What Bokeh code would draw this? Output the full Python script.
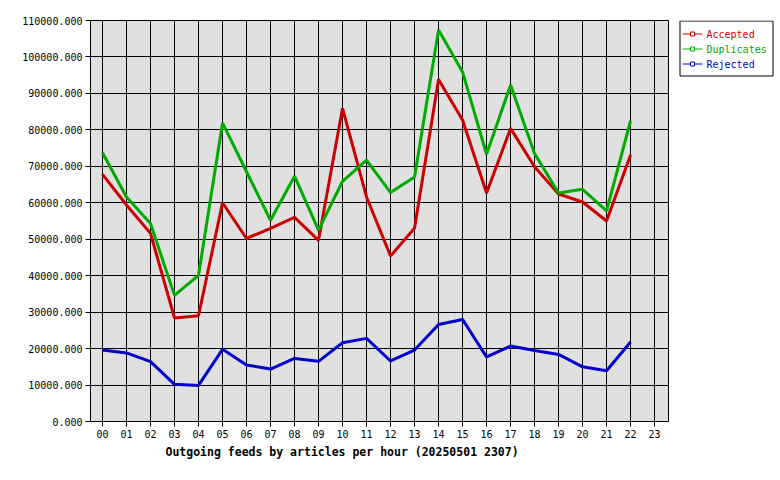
from bokeh.plotting import figure
from bokeh.layouts import row
from bokeh.models import Range1d, FixedTicker, PrintfTickFormatter, Title
from bokeh.core.properties import value
from bokeh.embed import file_html
from bokeh.resources import INLINE

# ---- data ----
hours = ["00", "01", "02", "03", "04", "05", "06", "07", "08", "09", "10", "11",
         "12", "13", "14", "15", "16", "17", "18", "19", "20", "21", "22", "23"]
accepted = [67800, 59400, 51600, 28400, 29000, 60000, 50200, 53000, 56000, 49700,
            85900, 61600, 45400, 53000, 93800, 82700, 62700, 80400, 69900, 62400,
            60200, 55000, 73100]
duplicates = [73700, 61600, 54300, 34600, 40100, 81900, 68500, 55200, 67300, 52500,
              65900, 71700, 62800, 67100, 107400, 95900, 73300, 92300, 73500, 62700,
              63700, 57800, 82500]
rejected = [19600, 18800, 16400, 10200, 9900, 19800, 15500, 14400, 17300, 16500,
            21600, 22800, 16600, 19600, 26600, 28000, 17700, 20700, 19500, 18400,
            15000, 13900, 21800]
y_ticks = [0, 10000, 20000, 30000, 40000, 50000, 60000, 70000, 80000, 90000, 100000, 110000]
series_names = ["Accepted", "Duplicates", "Rejected"]
series_colors = ["#cc0000", "#00aa00", "#0000cc"]
title_text = "Outgoing feeds by articles per hour (20250501 2307)"

FONT = "DejaVu Sans Mono"
TOP, BOTTOM = 20, 51

# ---- main chart ----
p = figure(width=672, height=472, output_backend="svg", toolbar_location=None,
           x_range=Range1d(-0.5, 23.58), y_range=Range1d(0, 110000),
           min_border_left=90, min_border_right=4, min_border_top=TOP,
           min_border_bottom=BOTTOM)
p.background_fill_color = "#e0e0e0"
p.border_fill_color = "white"
p.outline_line_color = "black"
p.outline_line_width = 1

xpos = list(range(len(hours)))

p.xaxis.ticker = FixedTicker(ticks=xpos)
p.xaxis.major_label_overrides = {i: h for i, h in enumerate(hours)}
p.yaxis.ticker = FixedTicker(ticks=y_ticks)
p.yaxis.formatter = PrintfTickFormatter(format="%.3f")
for ax in (p.xaxis[0], p.yaxis[0]):
    ax.major_label_text_font = FONT
    ax.major_label_text_font_size = "10px"
    ax.major_label_text_color = "black"
    ax.major_tick_out = 5
    ax.major_tick_in = 0
    ax.minor_tick_out = 0
    ax.minor_tick_in = 0
    ax.major_label_standoff = 3
    ax.axis_line_color = "black"
    ax.major_tick_line_color = "black"

p.xgrid.ticker = FixedTicker(ticks=xpos)
p.ygrid.ticker = FixedTicker(ticks=y_ticks)
for g in (p.xgrid[0], p.ygrid[0]):
    g.grid_line_color = "black"
    g.grid_line_alpha = 1
    g.grid_line_width = 1

for vals, color in zip([accepted, duplicates, rejected], series_colors):
    p.line(x=xpos[:len(vals)], y=vals, line_color=color, line_width=3)

p.add_layout(Title(text=title_text, align="left", offset=75, standoff=4,
                   text_font=FONT, text_font_style="bold",
                   text_font_size="11.5px", text_color="black"), "below")

# ---- legend panel (pixel-unit ranges, same vertical frame as the chart) ----
LW = 104
lg = figure(width=LW, height=472, output_backend="svg", toolbar_location=None,
            x_axis_type=None, y_axis_type=None,
            x_range=Range1d(0, LW), y_range=Range1d(472 - TOP - BOTTOM, 0),
            min_border_left=0, min_border_right=0, min_border_top=TOP,
            min_border_bottom=BOTTOM)
lg.background_fill_color = "white"
lg.border_fill_color = "white"
lg.outline_line_color = None
lg.grid.visible = False

lg.quad(left=[7.5], right=[100.5], top=[0.5], bottom=[55.5],
        fill_color="white", line_color="black", line_width=1)
ys = [13.5 + 15 * i for i in range(len(series_names))]
lg.segment(x0=[10] * len(ys), y0=ys, x1=[30] * len(ys), y1=ys,
           line_color=series_colors, line_width=1)
lg.scatter(x=[20] * len(ys), y=ys, marker="square", size=4,
           line_color=series_colors, fill_color="white", line_width=1)
lg.text(x=[34] * len(ys), y=ys, text=series_names, text_color=series_colors,
        text_font=value(FONT), text_font_size="10px", text_baseline="middle",
        text_align="left")

layout = row(p, lg, spacing=0)
open("out.html", "w").write(file_html(layout, INLINE))
